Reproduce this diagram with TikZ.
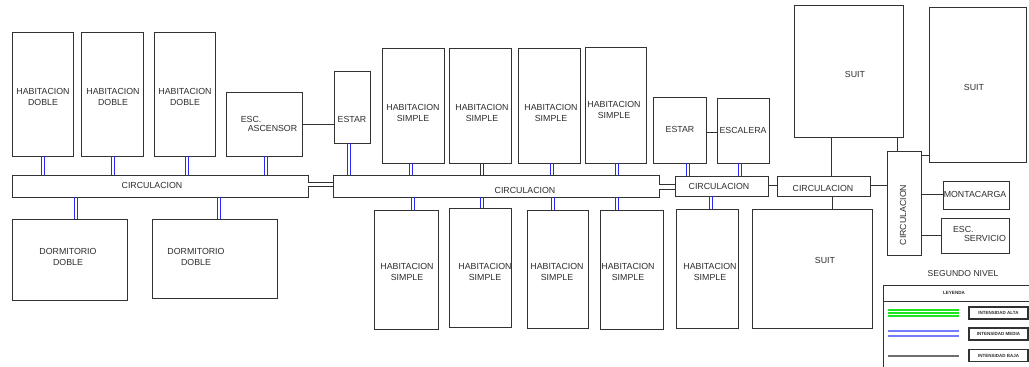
\documentclass[tikz,border=0pt]{standalone}
\usepackage{fontspec}
\usepackage{graphicx}
\setmainfont{Liberation Sans}
\definecolor{ln}{RGB}{50,50,50}
\definecolor{txt}{RGB}{45,45,45}
\definecolor{cblue}{RGB}{40,40,250}
\definecolor{lblue}{RGB}{120,120,255}
\definecolor{lgreen}{RGB}{30,230,30}
\definecolor{lgrey}{RGB}{110,110,110}
\newcommand\RoomBox[8]{%
  \pgfmathsetmacro\rw{#4-#2}\pgfmathsetmacro\rh{#5-#3}%
  \pgfmathsetmacro\rcx{(#2+#4)/2}\pgfmathsetmacro\rcy{(#3+#5)/2}%
  \pgfmathsetmacro\rdx{#6-\rcx}\pgfmathsetmacro\rdy{\rcy-#7}%
  \node[room, minimum width=\rw pt, minimum height=\rh pt,
        label={[roomtext, xshift=\rdx pt, yshift=\rdy pt]center:{#8}}] (#1) at (\rcx,\rcy) {};%
}
% two parallel vertical strokes between the bottom of #2 and the top of #3 at x=#4
\newcommand\VDuo[4]{%
  \pgfmathsetmacro\xa{#4-1.85}\pgfmathsetmacro\xb{#4+1.85}%
  \draw[#1] (#2.south -| \xa,0) -- (#3.north -| \xa,0);%
  \draw[#1] (#2.south -| \xb,0) -- (#3.north -| \xb,0);%
}
\newcommand\HabS{HABITACION\\SIMPLE}
\newcommand\HabD{HABITACION\\DOBLE}
\begin{document}
\begin{tikzpicture}[x=1pt,y=-1pt,
  room/.style={draw=ln, line width=0.9pt, inner sep=0pt, outer sep=0pt},
  roomtext/.style={font=\fontsize{8.8}{11}\selectfont, text=txt, align=center, inner sep=0pt},
  bline/.style={draw=cblue, line width=0.9pt},
  kline/.style={draw=ln, line width=0.8pt},
  kduo/.style={draw=ln, line width=0.9pt, double=white, double distance=3.8pt},
  link/.style={draw=ln, line width=0.9pt},
  legtext/.style={font=\bfseries\fontsize{4.6}{5}\selectfont, text=txt, inner sep=0pt},
  legbox/.style={draw=ln, line width=1.2pt, inner sep=0pt, outer sep=0pt, minimum width=59pt, minimum height=12pt, font=\bfseries\fontsize{4.5}{5}\selectfont, text=txt}]
\fill[white] (0,0) rectangle (1029,367);
\path[use as bounding box] (0,0) rectangle (1029,367);

% rooms, first wing
\RoomBox{hd1}{12}{32}{73}{156}{43}{97}{\HabD}
\RoomBox{hd2}{81}{32}{143}{156}{113}{97}{\HabD}
\RoomBox{hd3}{154}{32}{215}{156}{185}{97}{\HabD}
\RoomBox{esca}{226}{92}{302}{156}{269}{124.5}{\begin{tabular}{@{}l@{}}ESC.\\[-2pt]\hspace*{7pt}ASCENSOR\end{tabular}}
\RoomBox{estar1}{334}{71}{370}{143}{352}{119}{ESTAR}
\RoomBox{circ1}{12}{175}{308}{197}{152}{185.5}{CIRCULACION}
\RoomBox{d1}{12}{219}{127}{300}{68}{257}{DORMITORIO\\DOBLE}
\RoomBox{d2}{152}{219}{277}{298}{196}{257}{DORMITORIO\\DOBLE}

% second wing
\RoomBox{hs1}{382}{48}{444}{163}{413}{113}{\HabS}
\RoomBox{hs2}{449}{48}{511}{163}{482}{113}{\HabS}
\RoomBox{hs3}{518}{48}{580}{163}{551}{113}{\HabS}
\RoomBox{hs4}{585}{47}{646}{163}{614}{110}{\HabS}
\RoomBox{circ2}{333}{175}{659}{197}{525}{190}{CIRCULACION}
\RoomBox{hs5}{374}{210}{438}{329}{407}{272}{\HabS}
\RoomBox{hs6}{449}{208}{511}{327}{485}{272}{\HabS}
\RoomBox{hs7}{527}{210}{588}{328}{557}{272}{\HabS}
\RoomBox{hs8}{600}{210}{663}{329}{628}{272}{\HabS}

% third wing
\RoomBox{estar2}{653}{97}{706}{163}{680}{129}{ESTAR}
\RoomBox{escal}{717}{98}{769}{163}{743}{130}{ESCALERA}
\RoomBox{circ3}{675}{176}{768}{196}{719}{186.5}{CIRCULACION}
\RoomBox{hs9}{676}{209}{738}{328}{710}{272}{\HabS}
\RoomBox{circ4}{777}{176}{870}{196}{823}{188}{CIRCULACION}
\RoomBox{suit1}{794}{5}{903}{137}{855}{74}{SUIT}
\RoomBox{suit2}{929}{7}{1026}{162}{974}{87}{SUIT}
\RoomBox{suit3}{752}{209}{872}{328}{825}{260}{SUIT}
\RoomBox{vcirc}{887}{151}{921}{255}{903}{215}{\rotatebox{90}{CIRCULACION}}
\RoomBox{monta}{943}{181}{1009}{209}{975}{194.5}{MONTACARGA}
\RoomBox{escs}{941}{218}{1009}{253}{979.5}{235}{\begin{tabular}{@{}l@{}}ESC.\\[-2pt]\hspace*{11pt}SERVICIO\end{tabular}}

% blue double connectors (intensidad media)
\VDuo{bline}{hd1}{circ1}{43}
\VDuo{bline}{hd2}{circ1}{113}
\VDuo{bline}{hd3}{circ1}{187}
\VDuo{bline}{esca}{circ1}{266}
\VDuo{bline}{circ1}{d1}{76}
\VDuo{bline}{circ1}{d2}{219}
\VDuo{bline}{estar1}{circ2}{349}
\VDuo{bline}{hs1}{circ2}{411}
\VDuo{kline}{hs2}{circ2}{482}
\VDuo{bline}{hs3}{circ2}{552}
\VDuo{bline}{hs4}{circ2}{617}
\VDuo{bline}{circ2}{hs5}{413}
\VDuo{bline}{circ2}{hs6}{482}
\VDuo{bline}{circ2}{hs7}{553}
\VDuo{bline}{circ2}{hs8}{617}
\VDuo{bline}{estar2}{circ3}{688}
\VDuo{bline}{escal}{circ3}{740}
\VDuo{bline}{circ3}{hs9}{711}

% black double connectors
\draw[kduo] (circ1.east |- 0,184.5) -- (circ2.west |- 0,184.5);
\draw[kduo] (circ2.east |- 0,187) -- (circ3.west |- 0,187);

% single connectors (intensidad baja)
\draw[link] (esca.east |- 0,124) -- (estar1.west |- 0,124);
\draw[link] (estar2.east |- 0,132) -- (escal.west |- 0,132);
\draw[link] (circ3.east |- 0,185) -- (circ4.west |- 0,185);
\draw[link] (circ4.east |- 0,185) -- (vcirc.west |- 0,185);
\draw[link] (suit1.south -| 831,0) -- (circ4.north -| 831,0);
\draw[link] (circ4.south -| 832,0) -- (suit3.north -| 832,0);
\draw[link] (suit1.south -| 897,0) -- (vcirc.north -| 897,0);
\draw[link] (vcirc.east |- 0,155) -- (suit2.west |- 0,155);
\draw[link] (vcirc.east |- 0,194) -- (monta.west |- 0,194);
\draw[link] (vcirc.east |- 0,235) -- (escs.west |- 0,235);

% legend
\node[font=\fontsize{8.6}{10}\selectfont, text=txt, inner sep=0pt] (nivel) at (963,274) {SEGUNDO NIVEL};
\draw[ln, line width=0.9pt] (1040,285) -- (883,285) -- (883,375);
\draw[ln, line width=0.9pt] (883,301) -- (1040,301);
\node[legtext] (ley) at (954,293) {LEYENDA};
\foreach \yy in {310.3,313,315.7} \draw[lgreen, line width=1.9pt] (888,\yy) -- (959,\yy);
\draw[lblue, line width=1.3pt] (888,331) -- (959,331);
\draw[lblue, line width=1.3pt] (888,336) -- (959,336);
\draw[lgrey, line width=1.6pt] (888,356) -- (959,356);
\node[legbox] (alta) at (998.5,313) {INTENSIDAD ALTA};
\node[legbox] (media) at (998.5,334) {INTENSIDAD MEDIA};
\node[legbox] (baja) at (998.5,355.5) {INTENSIDAD BAJA};
\end{tikzpicture}
\end{document}
